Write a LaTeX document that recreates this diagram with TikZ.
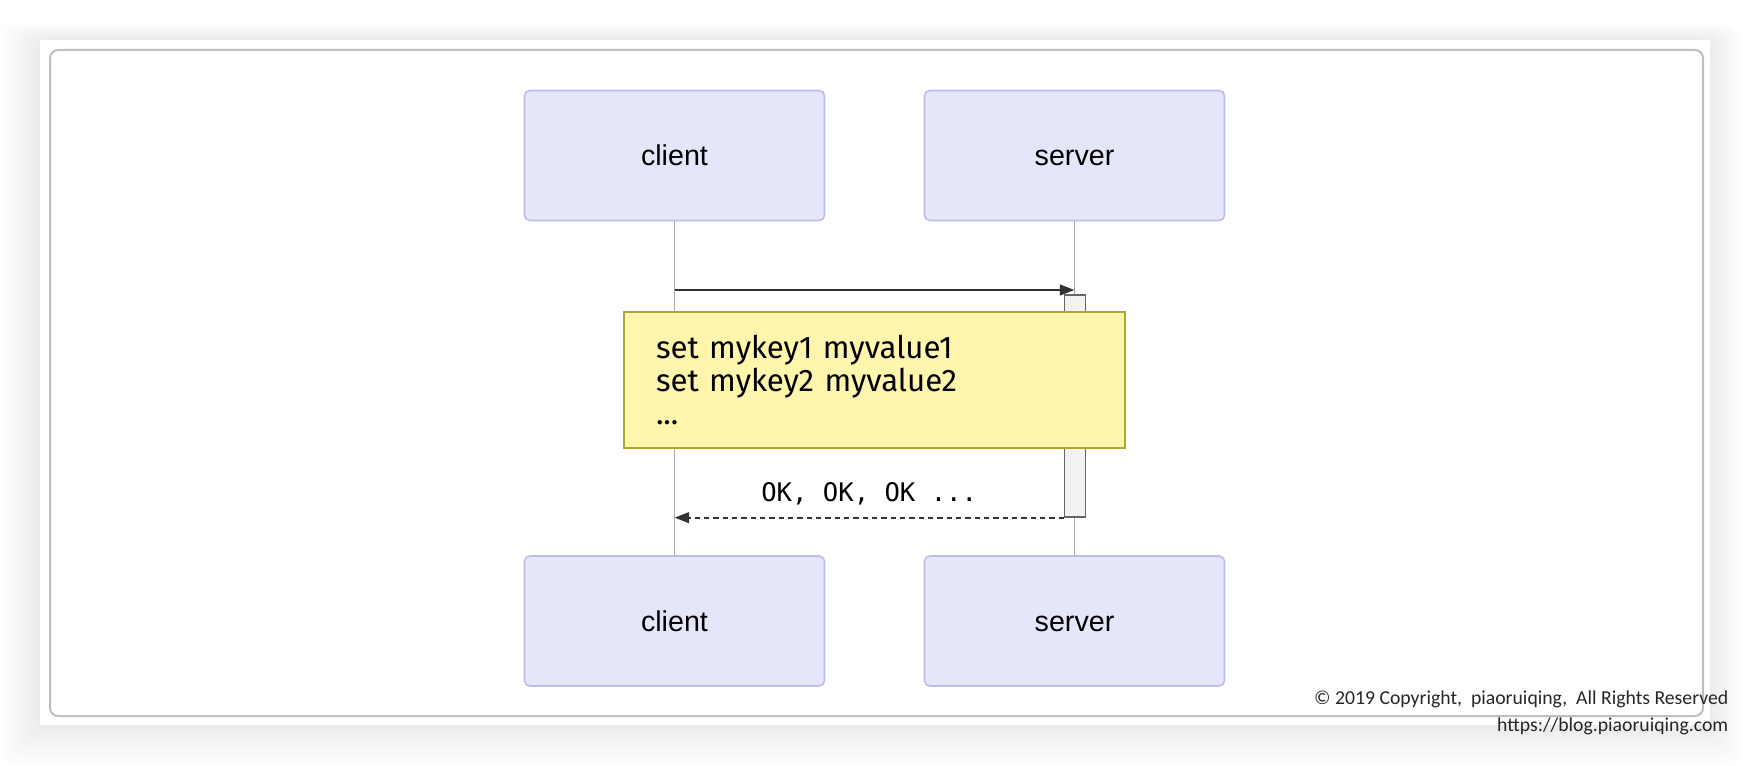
\documentclass[tikz,border=0pt]{standalone}
\usepackage{fontspec}
\setmainfont{Liberation Sans}
\setmonofont{DejaVu Sans Mono}
\newfontfamily\notefont{Fira Sans}
\newfontfamily\signfont{Carlito}
\usepackage{xcolor}
\usetikzlibrary{arrows.meta,positioning,calc}

\definecolor{actorfill}{HTML}{E6E6FB}
\definecolor{actorline}{HTML}{BFBCEC}
\definecolor{notefill}{HTML}{FFF5AD}
\definecolor{noteline}{HTML}{AAAA33}
\definecolor{lifegray}{HTML}{AAAAAA}
\definecolor{msgline}{HTML}{333333}

\begin{document}
\begin{tikzpicture}[x=0.75pt, y=-0.75pt,
  actor/.style={draw=actorline, line width=1.2pt, fill=actorfill, rounded corners=4pt,
    minimum width=225pt, minimum height=97.5pt, text height=15.5pt, text depth=0pt,
    font=\fontsize{21.5}{26}\selectfont},
  life/.style={draw=lifegray, line width=1pt},
  msg/.style={draw=msgline, line width=1.7pt, -{Triangle[length=11pt,width=8pt]}},
  reply/.style={msg, dash pattern=on 4pt off 3pt},
  note/.style={draw=noteline, fill=notefill, line width=1pt, align=left,
    text width=327.75pt, inner xsep=24pt, minimum height=102pt,
    font=\notefont\fontsize{23.4}{25}\selectfont}]
  \useasboundingbox (0,0) rectangle (1750,766);
  \foreach \s in {2,4,...,40}
    \fill [black, opacity=0.0035, rounded corners=10pt] (40-\s,40-0.4*\s) rectangle (1710+0.8*\s,725+\s);
  \fill [white] (40,40) rectangle (1710,725);
  \draw [black!25, line width=1.5pt, rounded corners=6pt] (50,50) rectangle (1703,716);

  \node [actor] at (674.5,155.5) (C1) {client};
  \node [actor] at (1074.5,155.5) (S1) {server};
  \node [actor] at (674.5,621) (C2) {client};
  \node [actor] at (1074.5,621) (S2) {server};
  \draw [life] (C1) -- (C2);
  \draw [life] (S1) -- (S2);

  \coordinate (y1) at (0,290);
  \node [draw=black!60, fill=black!5, line width=1pt, inner sep=0pt,
    minimum width=15.75pt, minimum height=166.5pt] at (1075,406) (act) {};
  \draw [msg] (C1 |- y1) -- (S1 |- y1);
  \node [note] at (874.5,380) (N) {set mykey1 myvalue1\\set mykey2 myvalue2\\...};
  \draw [reply] (act.south west) -- node [anchor=base, yshift=12pt, font=\ttfamily\fontsize{19.2}{23}\selectfont] {OK, OK, OK ...} (C1 |- act.south);

  \node [anchor=base east, font=\signfont\fontsize{14.8}{16}\selectfont, text=black!85] at (1733,704) (copy) {© 2019 Copyright,\ \ piaoruiqing,\ \ All Rights Reserved};
  \node [anchor=base east, font=\signfont\fontsize{14.8}{16}\selectfont, text=black!85] at (1733,731) (url) {https://blog.piaoruiqing.com};
\end{tikzpicture}
\end{document}
